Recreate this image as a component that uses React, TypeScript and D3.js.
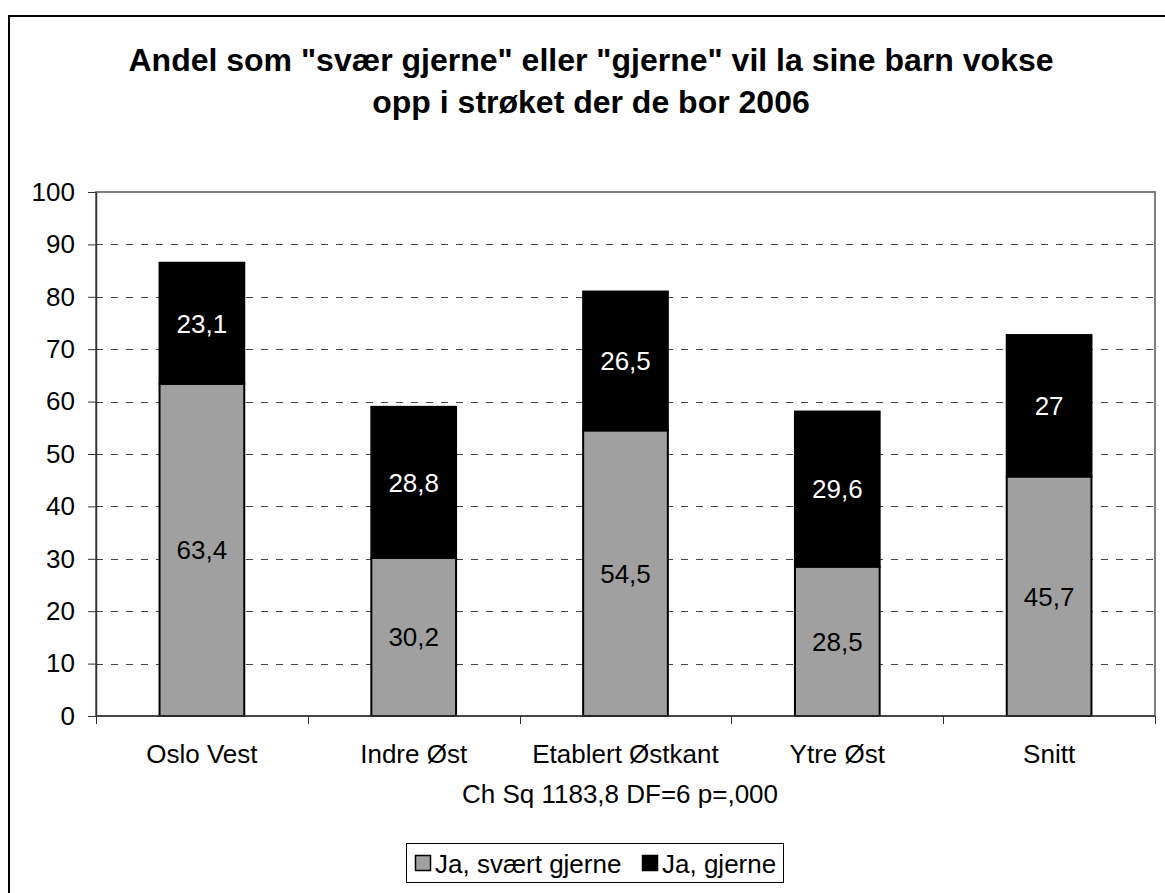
import React, { useRef, useEffect } from 'react';
import * as d3 from 'd3';

// chart data
const categories = ['Oslo Vest', 'Indre Øst', 'Etablert Østkant', 'Ytre Øst', 'Snitt'];
const svaertGjerne = [63.4, 30.2, 54.5, 28.5, 45.7];
const gjerne = [23.1, 28.8, 26.5, 29.6, 27];
const seriesNames = ['Ja, svært gjerne', 'Ja, gjerne'];
const yTicks = [0, 10, 20, 30, 40, 50, 60, 70, 80, 90, 100];
const titleLines = ['Andel som "svær gjerne" eller "gjerne" vil la sine barn vokse', 'opp i strøket der de bor 2006'];
const subtitle = 'Ch Sq 1183,8 DF=6 p=,000';

const FONT = '"Liberation Sans", Arial, Helvetica, sans-serif';
const fmt = (v: number) => String(v).replace('.', ',');

const App = () => {
  const ref = useRef<SVGSVGElement>(null);

  useEffect(() => {
    const svg = d3.select(ref.current);
    svg.selectAll('*').remove();

    const width = 1165;
    const height = 893;
    const plot = { left: 96, right: 1155, top: 192, bottom: 716 };

    const x = d3
      .scaleBand()
      .domain(categories)
      .range([plot.left, plot.right])
      .paddingInner(0.6)
      .paddingOuter(0.3);

    const y = d3.scaleLinear().domain([0, 100]).range([plot.bottom, plot.top]);

    // outer chart frame (only top/left edges visible)
    svg
      .append('rect')
      .attr('x', 9)
      .attr('y', 16)
      .attr('width', width + 20)
      .attr('height', height + 20)
      .attr('fill', 'white')
      .attr('stroke', '#000')
      .attr('stroke-width', 2);

    // title
    svg
      .append('g')
      .selectAll('text')
      .data(titleLines)
      .join('text')
      .attr('x', 591)
      .attr('y', (d, i) => 71 + i * 42)
      .attr('text-anchor', 'middle')
      .attr('font-family', FONT)
      .attr('font-weight', 'bold')
      .attr('font-size', 32)
      .text((d) => d);

    // plot area border
    svg
      .append('rect')
      .attr('x', plot.left)
      .attr('y', plot.top)
      .attr('width', plot.right - plot.left)
      .attr('height', plot.bottom - plot.top)
      .attr('fill', 'white')
      .attr('stroke', '#808080')
      .attr('stroke-width', 2);

    // dashed gridlines
    svg
      .append('g')
      .selectAll('line')
      .data(yTicks.filter((t) => t > 0 && t < 100))
      .join('line')
      .attr('x1', plot.left)
      .attr('x2', plot.right)
      .attr('y1', (d) => Math.round(y(d)) + 0.5)
      .attr('y2', (d) => Math.round(y(d)) + 0.5)
      .attr('stroke', '#444')
      .attr('stroke-dasharray', '7,8');

    // stacked bars
    const stackData = categories.map((c, i) => ({ cat: c, a: svaertGjerne[i], b: gjerne[i] }));
    const stack = d3.stack<any>().keys(['a', 'b'])(stackData);
    const fills = ['#A0A0A0', '#000000'];
    const textFills = ['#000', '#fff'];

    stack.forEach((layer, li) => {
      const g = svg.append('g');
      g.selectAll('rect')
        .data(layer)
        .join('rect')
        .attr('x', (d: any) => x(d.data.cat)!)
        .attr('y', (d) => y(d[1]))
        .attr('width', x.bandwidth())
        .attr('height', (d) => y(d[0]) - y(d[1]))
        .attr('fill', fills[li])
        .attr('stroke', '#000')
        .attr('stroke-width', 2);
      g.selectAll('text')
        .data(layer)
        .join('text')
        .attr('x', (d: any) => x(d.data.cat)! + x.bandwidth() / 2)
        .attr('y', (d) => y((d[0] + d[1]) / 2))
        .attr('dy', '0.36em')
        .attr('text-anchor', 'middle')
        .attr('font-family', FONT)
        .attr('font-size', 26)
        .attr('fill', textFills[li])
        .text((d) => fmt(d[1] - d[0] >= 0 ? +(d[1] - d[0]).toFixed(1) : 0));
    });

    // y axis
    const yAxis = svg
      .append('g')
      .attr('transform', `translate(${plot.left},0)`)
      .call(d3.axisLeft(y).tickValues(yTicks).tickSize(8).tickPadding(13).tickSizeOuter(0));
    yAxis.select('.domain').attr('stroke', '#333').attr('stroke-width', 1.5);
    yAxis.selectAll('.tick line').attr('stroke', '#333');
    yAxis
      .selectAll('.tick text')
      .attr('font-family', FONT)
      .attr('font-size', 26)
      .attr('fill', '#000');

    // x axis with ticks at category boundaries
    const xAxisG = svg.append('g');
    xAxisG
      .append('line')
      .attr('x1', plot.left)
      .attr('x2', plot.right)
      .attr('y1', plot.bottom)
      .attr('y2', plot.bottom)
      .attr('stroke', '#333')
      .attr('stroke-width', 1.5);
    const step = x.step();
    const bounds = d3.range(categories.length + 1).map((i) => plot.left + i * ((plot.right - plot.left) / categories.length));
    xAxisG
      .selectAll('line.tick')
      .data(bounds)
      .join('line')
      .attr('class', 'tick')
      .attr('x1', (d) => Math.round(d) + 0.5)
      .attr('x2', (d) => Math.round(d) + 0.5)
      .attr('y1', plot.bottom)
      .attr('y2', plot.bottom + 8)
      .attr('stroke', '#333');
    xAxisG
      .selectAll('text')
      .data(categories)
      .join('text')
      .attr('x', (d) => x(d)! + x.bandwidth() / 2)
      .attr('y', 763)
      .attr('text-anchor', 'middle')
      .attr('font-family', FONT)
      .attr('font-size', 26)
      .text((d) => d);
    void step;

    // subtitle (axis title)
    svg
      .append('text')
      .attr('x', 620)
      .attr('y', 803)
      .attr('text-anchor', 'middle')
      .attr('font-family', FONT)
      .attr('font-size', 26)
      .text(subtitle);

    // legend
    const legend = svg.append('g');
    legend
      .append('rect')
      .attr('x', 406.5)
      .attr('y', 843.5)
      .attr('width', 377)
      .attr('height', 39)
      .attr('fill', 'white')
      .attr('stroke', '#000');
    const legendX = [415, 642];
    seriesNames.forEach((name, i) => {
      legend
        .append('rect')
        .attr('x', legendX[i] + 0.5)
        .attr('y', 855.5)
        .attr('width', 15)
        .attr('height', 15)
        .attr('fill', fills[i])
        .attr('stroke', '#000')
        .attr('stroke-width', 1.5);
      legend
        .append('text')
        .attr('x', legendX[i] + 20)
        .attr('y', 873)
        .attr('font-family', FONT)
        .attr('font-size', 26)
        .text(name);
    });
  }, []);

  return (
    <svg
      ref={ref}
      width={1165}
      height={893}
      style={{ position: 'fixed', left: 0, top: 0, background: 'white' }}
    />
  );
};

export default App;
